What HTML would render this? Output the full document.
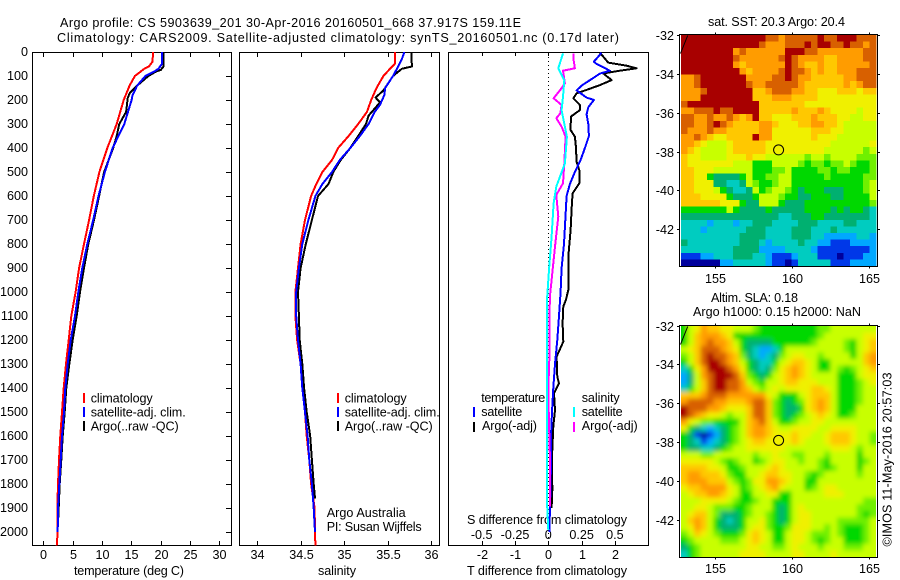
<!DOCTYPE html>
<html lang="en">
<head>
<meta charset="utf-8">
<title>Argo profile chart</title>
<style>
html,body{margin:0;padding:0;background:#fff;}
svg{display:block;}
text{font-family:"Liberation Sans",sans-serif;font-size:12.6px;fill:#000;}
</style>
</head>
<body>
<svg id="chart" xmlns="http://www.w3.org/2000/svg" width="900" height="580" viewBox="0 0 900 580">
  <defs>
    <filter id="smooth" filterUnits="userSpaceOnUse" x="660" y="300" width="240" height="280"><feGaussianBlur stdDeviation="2.4"/></filter>
    <clipPath id="clip-sla"><rect x="681" y="326" width="195" height="231"/></clipPath>
  </defs>
  <text x="60" y="27" textLength="461" font-size="14">Argo profile: CS 5903639_201 30-Apr-2016 20160501_668 37.917S 159.11E</text>
  <text x="57" y="42" textLength="562">Climatology: CARS2009. Satellite-adjusted climatology: synTS_20160501.nc (0.17d later)</text>
  <text x="708" y="26" textLength="137">sat. SST: 20.3 Argo: 20.4</text>
  <text x="711" y="302" textLength="87">Altim. SLA: 0.18</text>
  <text x="693" y="316" textLength="168">Argo h1000: 0.15 h2000: NaN</text>
  <text transform="translate(891.5,546.5) rotate(-90)" textLength="174">©IMOS 11-May-2016 20:57:03</text>

  <text x="74" y="575" textLength="110">temperature (deg C)</text>
  <text x="318" y="575" textLength="38">salinity</text>
  <text x="467" y="575" textLength="160">T difference from climatology</text>
  <text x="467" y="524" textLength="160">S difference from climatology</text>

  <g>
    <rect x="83" y="393" width="2" height="10" fill="#f00"/>
    <text x="90.7" y="402.5" textLength="62">climatology</text>
    <rect x="83" y="407" width="2" height="10" fill="#00f"/>
    <text x="90.7" y="416.5" textLength="95">satellite-adj. clim.</text>
    <rect x="83" y="421" width="2" height="10" fill="#000"/>
    <text x="90.7" y="430.5" textLength="88">Argo(..raw -QC)</text>
  </g>
  <g>
    <rect x="337" y="393" width="2" height="10" fill="#f00"/>
    <text x="344.7" y="402.5" textLength="62">climatology</text>
    <rect x="337" y="407" width="2" height="10" fill="#00f"/>
    <text x="344.7" y="416.5" textLength="95">satellite-adj. clim.</text>
    <rect x="337" y="421" width="2" height="10" fill="#000"/>
    <text x="344.7" y="430.5" textLength="88">Argo(..raw -QC)</text>
  </g>
  <text x="326.7" y="517" textLength="79">Argo Australia</text>
  <text x="326.7" y="531" textLength="95">PI: Susan Wijffels</text>

  <g>
    <text x="481.3" y="402" textLength="64">temperature</text>
    <rect x="473" y="407" width="2" height="10" fill="#00f"/>
    <text x="481.3" y="416" textLength="41">satellite</text>
    <rect x="473" y="422" width="2" height="10" fill="#000"/>
    <text x="482" y="430" textLength="55">Argo(-adj)</text>
    <text x="581.7" y="402" textLength="38">salinity</text>
    <rect x="573" y="407" width="2" height="10" fill="#0ff"/>
    <text x="581.7" y="416" textLength="41">satellite</text>
    <rect x="573" y="422" width="2" height="10" fill="#f0f"/>
    <text x="581.7" y="430" textLength="56">Argo(-adj)</text>
  </g>
  <g id="marks"></g>
</svg>
<script>
// ---- tick labels ----
const depthTicks = [0,100,200,300,400,500,600,700,800,900,1000,1100,1200,1300,1400,1500,1600,1700,1800,1900,2000];
const temperatureTicks = [0,5,10,15,20,25,30];
const salinityTicks = [34,34.5,35,35.5,36];
const tDifferenceTicks = [-2,-1,0,1,2];
const sDifferenceTicks = [-0.5,-0.25,0,0.25,0.5];
const longitudeTicks = [155,160,165];
const latitudeTicks = [-32,-34,-36,-38,-40,-42];

// ---- temperature profiles ----
const tClimDepths = [0,40,60,70,100,140,200,300,400,500,600,700,800,900,1000,1100,1200,1300,1400,1500,1600,1700,1800,1900,2000,2057];
const tClimValues = [18.7,18.6,18.0,17.2,15.6,14.7,13.7,12.5,10.9,9.55,8.6,7.8,6.93,6.1,5.5,4.77,4.32,3.87,3.47,3.19,2.9,2.67,2.5,2.39,2.45,2.28];
const tSatDepths = [0,50,70,80,100,140,180,200,300,400,500,600,700,800,900,1000,1100,1200,1300,1400,1500,1600,1700,1800,1900,2000];
const tSatValues = [20.2,20.2,19.6,19.0,17.4,16.0,15.2,15.05,13.8,11.8,10.5,9.4,8.5,7.5,6.64,5.96,5.4,4.67,4.15,3.75,3.53,3.19,2.96,2.73,2.5,2.45];
const tArgoDepths = [0,60,75,80,100,140,170,190,250,300,350,400,500,600,700,800,900,1000,1100,1200,1300,1400,1500,1600,1700,1800,1900,1940];
const tArgoValues = [20.45,20.5,20.0,19.3,17.9,16.0,14.77,14.4,14.1,12.95,12.5,11.9,10.35,9.5,8.64,7.67,6.93,6.25,5.69,5.0,4.43,3.92,3.64,3.3,3.07,2.79,2.62,2.55];

// ---- salinity profiles ----
const sClimDepths = [0,50,70,100,150,200,250,300,350,400,450,500,550,600,700,800,900,1000,1100,1200,1300,1400,1500,1600,1700,1800,1900,2000,2057];
const sClimValues = [35.58,35.58,35.525,35.45,35.37,35.31,35.26,35.16,35.05,34.93,34.86,34.75,34.68,34.62,34.55,34.5,34.47,34.44,34.44,34.46,34.5,34.52,34.55,34.57,34.6,34.62,34.66,34.665,34.67];
const sSatDepths = [0,30,60,100,150,180,220,250,300,350,400,450,500,550,600,700,800,900,1000,1100,1200,1300,1400,1500,1600,1700,1800,1900,2000];
const sSatValues = [35.69,35.66,35.62,35.56,35.47,35.46,35.41,35.35,35.28,35.18,35.07,34.95,34.86,34.75,34.67,34.59,34.52,34.48,34.45,34.45,34.47,34.5,34.52,34.55,34.58,34.6,34.63,34.65,34.665];
const sArgoDepths = [0,30,60,70,100,160,190,210,240,265,300,350,400,450,500,550,600,700,800,900,1000,1100,1200,1300,1400,1500,1600,1700,1800,1860];
const sArgoValues = [35.77,35.77,35.78,35.66,35.56,35.45,35.36,35.41,35.34,35.28,35.25,35.16,35.07,34.96,34.875,34.82,34.7,34.63,34.56,34.5,34.47,34.48,34.49,34.52,34.54,34.57,34.61,34.63,34.65,34.665];

// ---- differences from climatology ----
const dtArgoDepths = [3,19,44,57,68,78,89,117,138,158,172,193,221,242,269,325,353,394,457,492,547,589,631,742,853,992,1033,1061,1131,1207,1269,1353,1381,1422,1492,1561,1686,1825,1900];
const dtArgoValues = [1.55,1.65,1.8,2.35,2.65,2.15,1.65,1.9,1.55,1.15,0.85,0.75,0.95,0.95,0.68,0.67,0.8,0.83,0.85,0.93,0.93,0.73,0.71,0.67,0.6,0.6,0.53,0.45,0.43,0.45,0.25,0.27,0.32,0.17,0.2,0.15,0.11,0.12,0.1];
const dtSatDepths = [3,19,40,50,78,90,110,140,160,190,200,230,260,300,350,400,450,500,550,600,700,800,900,1000,1100,1200,1300,1400,1500,1600,1700,1800,1900,2000];
const dtSatValues = [1.6,1.5,1.37,1.45,1.85,1.55,1.33,1.0,0.85,1.15,1.37,1.2,1.15,1.2,1.22,1.1,0.97,0.8,0.65,0.55,0.51,0.47,0.4,0.37,0.32,0.27,0.2,0.15,0.11,0.08,0.08,0.07,0.05,0.03];
const dsArgoDepths = [6,33,68,78,131,158,193,221,256,276,311,353,464,547,596,686,811,950,1019,1131,1269,1408,1547,1686,1825,1894];
const dsArgoValues = [0.19,0.19,0.2,0.11,0.125,0.09,0.04,0.1,0.09,0.06,0.1,0.13,0.12,0.11,0.06,0.075,0.05,0.025,0.012,0.008,0.008,0,0.005,0.012,0.012,0.012];
const dsSatDepths = [6,68,117,186,242,353,464,561,631,769,908,1019,1408,1894,1992];
const dsSatValues = [0.11,0.075,0.12,0.11,0.1,0.14,0.125,0.06,0.04,0.025,0.005,-0.008,-0.008,-0.008,0];

// ---- colour scale levels for both maps: 0 coldest/lowest .. 12 warmest/highest ----
const colourLevels = ["#00009c","#0038e8","#00a8ff","#00ccc0","#00b070","#00d800","#70f000","#c8ff00","#f0f000","#ffc800","#ff9c00","#d86000","#a80000"];

const sstGrid = [
[12,12,12,12,12,12,12,12,12,12,12,12,12,11,11,10,11,11,11,11,11,12,11,11,12,12,12,11,11,11],
[12,12,12,12,12,12,12,12,12,12,12,12,11,10,10,10,11,11,11,12,11,12,12,11,11,12,11,11,10,11],
[12,12,12,12,12,12,12,12,10,11,10,10,10,10,10,10,12,12,12,11,11,10,10,10,10,10,10,10,11,11],
[12,12,12,12,12,12,12,12,11,10,10,10,10,10,10,11,12,11,10,10,10,10,9,9,10,10,10,10,11,11],
[12,12,12,12,12,12,12,12,10,9,10,10,10,10,10,10,12,11,10,9,9,10,9,9,10,10,10,10,10,11],
[12,12,12,12,12,12,12,12,12,10,9,10,10,10,10,11,12,11,11,10,9,10,9,9,10,10,10,11,11,11],
[10,10,11,12,12,12,12,12,12,12,10,10,10,10,11,11,12,11,10,10,9,9,9,9,9,10,10,11,11,11],
[10,10,11,12,12,12,12,12,12,12,11,10,10,11,11,11,11,11,10,9,9,9,9,9,9,10,9,10,11,11],
[10,10,10,11,12,12,12,12,12,12,12,9,9,10,11,11,11,10,10,9,9,8,8,8,9,9,9,8,9,9],
[10,10,10,12,12,12,12,12,12,12,12,9,9,9,10,10,10,9,9,9,9,8,8,8,8,8,8,8,8,8],
[11,12,12,12,12,12,12,12,12,12,12,12,9,9,9,9,9,9,9,8,8,8,8,8,8,8,8,8,8,8],
[10,10,11,11,11,12,11,11,12,12,12,12,9,9,9,9,9,10,9,9,9,10,9,8,8,8,8,7,8,8],
[11,11,10,10,11,10,10,11,10,9,10,12,9,9,8,8,8,9,9,9,10,9,9,9,8,8,7,7,8,8],
[11,11,10,10,11,12,11,10,9,9,9,9,10,10,9,8,8,8,9,9,10,10,9,9,8,7,7,7,7,7],
[11,10,10,10,11,10,10,9,9,9,9,9,10,10,8,8,8,8,8,8,9,9,9,8,8,7,7,7,7,7],
[10,10,11,10,9,8,8,9,9,9,9,12,10,10,8,8,8,8,8,8,9,8,8,8,7,7,7,7,7,7],
[10,10,9,8,7,7,7,8,9,9,9,9,9,8,8,8,8,8,8,8,8,8,8,7,7,7,7,7,7,8],
[10,9,8,7,7,7,7,8,9,9,9,9,9,8,8,8,8,8,8,8,8,8,7,7,7,7,7,7,6,7],
[9,8,8,7,7,7,7,8,8,8,9,8,8,7,7,7,7,7,7,6,7,7,6,7,7,7,7,6,6,6],
[9,8,8,8,8,8,8,8,7,7,7,5,5,5,7,7,7,7,6,5,6,6,5,6,6,7,6,5,5,6],
[9,9,8,8,8,7,7,7,7,7,7,5,5,5,6,6,7,5,5,5,5,6,6,5,6,6,5,5,5,6],
[9,9,8,8,5,4,4,4,4,5,7,5,5,6,6,7,7,5,5,5,5,5,6,5,5,5,5,5,6,6],
[9,9,8,8,8,4,4,3,3,4,7,6,5,5,6,7,7,5,5,5,5,5,5,5,5,5,5,5,6,7],
[9,9,8,8,8,7,5,4,3,3,4,7,5,6,7,7,6,5,4,5,5,5,4,4,4,5,5,5,6,7],
[9,9,9,8,8,8,8,5,4,4,4,5,7,7,7,6,5,5,4,4,5,5,5,4,4,5,5,5,5,7],
[9,9,9,9,9,9,8,8,8,5,4,4,7,7,7,5,4,4,4,5,5,5,5,5,5,5,5,5,5,6],
[5,5,5,5,5,5,5,7,5,4,4,4,4,5,4,4,4,4,4,5,5,5,5,4,5,4,5,5,4,3],
[4,4,4,4,4,4,4,4,4,4,4,4,4,4,4,3,3,4,4,4,5,5,4,4,4,4,4,4,4,3],
[3,3,3,3,2,3,3,3,2,3,3,4,4,4,3,3,3,3,4,4,4,3,3,3,3,4,4,3,3,3],
[3,3,3,2,3,3,3,3,3,3,4,4,4,3,3,3,3,4,4,4,3,3,3,4,3,3,3,3,3,3],
[3,3,3,3,3,3,3,3,3,4,4,4,4,3,3,3,3,4,4,4,3,3,2,2,2,2,2,3,3,2],
[4,3,3,3,3,3,3,3,3,4,4,4,3,2,3,3,3,3,4,3,3,2,2,1,1,1,2,2,2,2],
[3,3,3,3,3,3,3,3,4,4,4,4,2,2,2,2,3,3,3,3,2,1,1,1,1,1,1,1,1,2],
[1,1,1,2,2,3,3,3,4,4,4,3,3,2,1,1,1,2,3,3,3,1,1,1,0,1,1,1,2,2],
[0,0,0,0,0,0,2,2,3,3,3,3,3,2,1,1,0,1,3,3,3,3,3,1,1,1,2,2,2,2]
];

const slaGrid = [
[5,7,8,10,9,9,8,8,7,7,7,6,5,5,5,5,5,5,5,5,5,6,6,7,7,7,7,7,7,7],
[5,7,9,10,10,10,9,8,5,5,5,5,5,5,5,5,5,5,5,5,5,6,7,7,7,7,7,7,8,8],
[5,7,9,10,11,10,10,9,7,5,4,4,4,4,5,5,5,5,5,5,6,7,7,7,7,6,5,7,8,9],
[7,8,9,11,11,11,10,9,8,5,4,3,2,2,3,5,7,7,7,7,7,7,7,7,7,6,5,7,8,9],
[6,7,9,11,12,11,11,10,9,6,4,3,2,3,4,6,7,8,8,7,7,6,7,7,7,7,5,7,9,10],
[5,7,9,11,12,12,11,10,9,7,5,4,3,3,5,7,8,9,9,8,7,5,5,7,7,7,7,7,9,10],
[3,5,8,10,12,12,12,11,10,8,5,4,3,4,6,8,9,10,9,8,7,5,5,7,6,5,6,7,8,9],
[2,4,7,10,11,12,12,12,11,9,6,5,4,5,7,8,9,10,9,8,7,7,7,7,5,5,5,7,8,8],
[2,4,7,9,11,12,12,11,11,10,7,6,5,7,7,8,9,9,8,8,8,7,7,7,5,5,5,6,7,8],
[3,5,7,9,11,12,12,11,11,10,9,7,6,7,8,7,8,8,8,8,9,9,8,7,5,5,5,6,7,7],
[9,9,9,10,11,11,11,10,10,10,10,10,10,8,7,5,5,5,7,8,9,9,9,7,5,5,5,6,7,7],
[10,11,11,11,11,10,10,9,9,9,10,11,11,9,6,5,4,5,6,8,9,10,9,7,5,5,5,6,7,7],
[12,11,11,11,10,10,9,8,8,8,9,11,11,9,6,5,4,4,5,8,9,10,9,7,5,5,5,7,7,7],
[12,11,10,9,8,8,7,6,7,7,9,11,11,9,6,5,4,5,6,7,8,9,8,7,5,5,6,7,7,7],
[10,8,7,6,6,5,5,5,5,7,9,10,11,9,7,5,5,6,7,7,8,8,7,7,7,7,7,7,7,7],
[8,5,4,3,2,3,4,5,6,7,9,10,10,9,8,7,7,8,8,8,8,7,7,8,8,8,8,7,7,7],
[5,4,1,0,1,2,4,5,6,7,9,10,10,9,8,8,8,9,8,8,7,7,8,9,9,9,8,7,7,6],
[5,4,3,1,2,3,4,5,6,7,8,9,9,8,8,8,8,9,8,7,7,7,8,9,9,9,8,7,7,6],
[5,4,4,3,3,4,5,6,7,7,8,8,8,8,8,8,7,7,7,7,7,7,7,8,8,8,7,6,7,7],
[7,7,7,6,6,7,7,7,7,7,7,6,7,7,8,7,7,6,6,7,7,7,6,7,7,7,7,5,7,7],
[8,8,8,8,8,7,6,5,6,7,7,5,6,7,8,8,7,7,6,7,7,6,5,7,7,7,7,5,6,7],
[9,9,9,9,8,8,7,5,5,6,7,7,7,8,9,8,7,7,7,7,7,6,5,6,7,7,7,5,7,7],
[9,10,10,9,9,9,8,6,5,5,7,7,8,9,9,8,8,7,7,6,5,6,7,7,7,7,7,6,7,7],
[9,10,10,10,9,9,9,7,6,5,6,8,8,10,10,9,8,7,7,5,5,7,7,7,7,7,7,7,7,7],
[8,9,9,10,10,10,10,8,7,5,6,7,8,9,10,8,7,7,7,5,6,7,8,8,7,7,7,7,7,7],
[7,8,9,9,10,10,9,8,7,5,5,7,7,8,8,5,5,7,7,7,7,7,8,8,8,7,7,7,7,7],
[7,7,7,8,8,8,8,7,6,5,5,6,7,7,5,5,5,7,7,7,7,7,7,7,7,7,7,7,6,6],
[7,7,8,8,7,6,6,6,5,5,6,7,7,7,5,4,5,7,8,7,7,7,7,7,7,7,7,6,6,6],
[7,8,9,9,7,6,4,4,4,5,6,7,7,6,5,4,5,7,8,8,7,7,7,7,7,7,7,6,5,6],
[7,9,10,9,7,5,4,3,4,5,7,7,8,6,5,4,5,7,8,8,7,7,7,7,6,6,6,6,6,7],
[7,8,10,9,7,5,4,4,4,5,7,8,8,6,5,5,6,8,8,8,7,7,6,7,6,5,5,5,6,7],
[6,7,9,8,7,6,5,5,5,6,8,9,8,7,5,5,7,8,8,7,6,6,6,7,6,5,5,5,6,7],
[5,6,7,7,7,7,6,6,6,7,8,9,8,7,5,5,7,8,8,7,6,5,6,7,7,5,5,5,6,7],
[4,5,6,7,7,7,7,7,7,7,8,8,7,7,6,6,7,8,7,7,7,6,7,7,7,6,6,6,7,7],
[3,5,6,7,7,7,7,7,7,8,8,8,8,7,7,7,7,8,8,7,7,7,7,8,7,7,7,7,7,7]
];

// ---- profile location ----
const argoLon = [159.11];
const argoLat = [-37.917];

// ---- axis functions ----
const yDepth = d => 52 + 0.24 * d;
const xTemp = v => 43.3 + 5.87 * v;
const xSal = v => 257 + 87.2 * (v - 34);
const xDT = v => 548.3 + 33.3 * v;
const xDS = v => 548.3 + 133.2 * v;
const lonX = v => 715.3 + 15.4 * (v - 155);
const sstLatY = v => 35 + 19.42 * (-32 - v);
const slaLatY = v => 325.7 + 19.38 * (-32 - v);

const NS = "http://www.w3.org/2000/svg";
const marks = document.getElementById("marks");
function make(tag, parent) {
  const el = document.createElementNS(NS, tag);
  (parent || marks).appendChild(el);
  return el;
}
function tickLine(x1, y1, x2, y2, parent) {
  const l = make("line", parent);
  
  
  l.setAttribute("x1", x1); l.setAttribute("y1", y1);
  l.setAttribute("x2", x2); l.setAttribute("y2", y2);
  l.setAttribute("stroke", "#000");
  l.setAttribute("stroke-width", "1");
  l.setAttribute("shape-rendering", "crispEdges");
}
function tickText(str, x, y, anchor) {
  const t = make("text");
  
  
  t.setAttribute("x", x); t.setAttribute("y", y);
  t.setAttribute("text-anchor", anchor);
  t.textContent = str;
}
function frame(x, y, w, h, name) {
  const r = make("rect");
  
  
  r.setAttribute("x", x); r.setAttribute("y", y);
  r.setAttribute("width", w); r.setAttribute("height", h);
  r.setAttribute("fill", "none");
  r.setAttribute("stroke", "#000");
  r.setAttribute("stroke-width", "1");
  r.setAttribute("shape-rendering", "crispEdges");
}
function profile(depths, values, xFn, colour, name) {
  const p = make("polyline");
  
  
  p.setAttribute("points", depths.map((d, i) => xFn(values[i]).toFixed(1) + "," + yDepth(d).toFixed(1)).join(" "));
  p.setAttribute("fill", "none");
  p.setAttribute("stroke", colour);
  p.setAttribute("stroke-width", "2");
  p.setAttribute("stroke-linejoin", "round");
  p.setAttribute("shape-rendering", "crispEdges");
}

// ---- heatmaps ----
function heatmap(grid, x0, y0, w, h, parent, cellName, extend) {
  const rows = grid.length, cols = grid[0].length;
  const cw = w / cols, ch = h / rows;
  grid.forEach((row, r) => row.forEach((v, c) => {
    const rect = make("rect", parent);
    
    
    const ex = extend && c === 0 ? extend : 0, ey = extend && r === 0 ? extend : 0;
    const ew = extend && c === cols - 1 ? extend : 0, eh = extend && r === rows - 1 ? extend : 0;
    rect.setAttribute("x", (x0 + c * cw - ex).toFixed(2));
    rect.setAttribute("y", (y0 + r * ch - ey).toFixed(2));
    rect.setAttribute("width", (cw + ex + ew + 0.4).toFixed(2));
    rect.setAttribute("height", (ch + ey + eh + 0.4).toFixed(2));
    rect.setAttribute("fill", colourLevels[v]);
    rect.setAttribute("shape-rendering", "crispEdges");
  }));
}
const sstGroup = make("g");


heatmap(sstGrid, 681, 35, 195, 231, sstGroup, "sst-cell", 0);

const slaClip = make("g");


slaClip.setAttribute("clip-path", "url(#clip-sla)");
const slaGroup = make("g", slaClip);


slaGroup.setAttribute("filter", "url(#smooth)");
heatmap(slaGrid, 681, 326, 195, 231, slaGroup, "sla-cell", 12);

// ---- profile panels ----
frame(32.5, 52.5, 199, 493, "temperature-panel-frame");
frame(239.5, 52.5, 200, 493, "salinity-panel-frame");
frame(448.5, 52.5, 200, 493, "difference-panel-frame");

depthTicks.forEach(d => {
  const y = Math.round(yDepth(d)) + 0.5;
  tickLine(226, y, 231, y);
  tickText(String(d), 28, y + 3.7, "end");
});
temperatureTicks.forEach(v => {
  const x = Math.round(xTemp(v)) + 0.5;
  tickLine(x, 52, x, 57);
  tickLine(x, 541, x, 546);
  tickText(String(v), x, 559, "middle");
});
salinityTicks.forEach(v => {
  const x = Math.round(xSal(v)) + 0.5;
  tickLine(x, 52, x, 57);
  tickLine(x, 541, x, 546);
  tickText(String(v), x, 559, "middle");
});
tDifferenceTicks.forEach(v => {
  const x = Math.round(xDT(v)) + 0.5;
  tickLine(x, 52, x, 56);
  tickLine(x, 541, x, 546);
  tickText(String(v), x, 559, "middle");
});
sDifferenceTicks.forEach(v => {
  tickText(String(v), xDS(v), 539, "middle");
});

const zeroLine = make("line");


zeroLine.setAttribute("x1", "548.5"); zeroLine.setAttribute("x2", "548.5");
zeroLine.setAttribute("y1", "53"); zeroLine.setAttribute("y2", "545");
zeroLine.setAttribute("stroke", "#000");
zeroLine.setAttribute("stroke-dasharray", "1 3");
zeroLine.setAttribute("shape-rendering", "crispEdges");

profile(tArgoDepths, tArgoValues, xTemp, "#000", "temperature-argo-line");
profile(tClimDepths, tClimValues, xTemp, "#f00", "temperature-climatology-line");
profile(tSatDepths, tSatValues, xTemp, "#00f", "temperature-satellite-line");

profile(sArgoDepths, sArgoValues, xSal, "#000", "salinity-argo-line");
profile(sClimDepths, sClimValues, xSal, "#f00", "salinity-climatology-line");
profile(sSatDepths, sSatValues, xSal, "#00f", "salinity-satellite-line");

profile(dtArgoDepths, dtArgoValues, xDT, "#000", "t-difference-argo-line");
profile(dtSatDepths, dtSatValues, xDT, "#00f", "t-difference-satellite-line");
profile(dsArgoDepths, dsArgoValues, xDS, "#f0f", "s-difference-argo-line");
profile(dsSatDepths, dsSatValues, xDS, "#0ff", "s-difference-satellite-line");

// ---- map frames, ticks, markers ----
function mapAxes(top, bottom, latFn, labelY, name) {
  frame(679.5, top, 198, bottom - top, name + "-frame");
  longitudeTicks.forEach(v => {
    const x = Math.round(lonX(v)) + 0.5;
    tickLine(x, top - 2, x, top);
    tickLine(x, bottom, x, bottom + 2);
    tickText(String(v), x, labelY, "middle");
  });
  latitudeTicks.forEach(v => {
    const y = Math.round(latFn(v)) + 0.5;
    tickLine(677, y, 680, y);
    tickLine(877, y, 880, y);
    tickText(String(v), 674, y + 4.5, "end");
  });
  const coast = make("line");
  
  
  coast.setAttribute("x1", "687.7"); coast.setAttribute("y1", top + 1);
  coast.setAttribute("x2", "680.5"); coast.setAttribute("y2", top + 19);
  coast.setAttribute("stroke", "#000");
  const dot = make("circle");
  
  
  dot.setAttribute("cx", lonX(argoLon[0]));
  dot.setAttribute("cy", latFn(argoLat[0]));
  dot.setAttribute("r", "5");
  dot.setAttribute("fill", "none");
  dot.setAttribute("stroke", "#000");
}
mapAxes(34.5, 266.5, sstLatY, 283, "sst-map");
mapAxes(325.5, 557.5, slaLatY, 573, "sla-map");
</script>
</body>
</html>
